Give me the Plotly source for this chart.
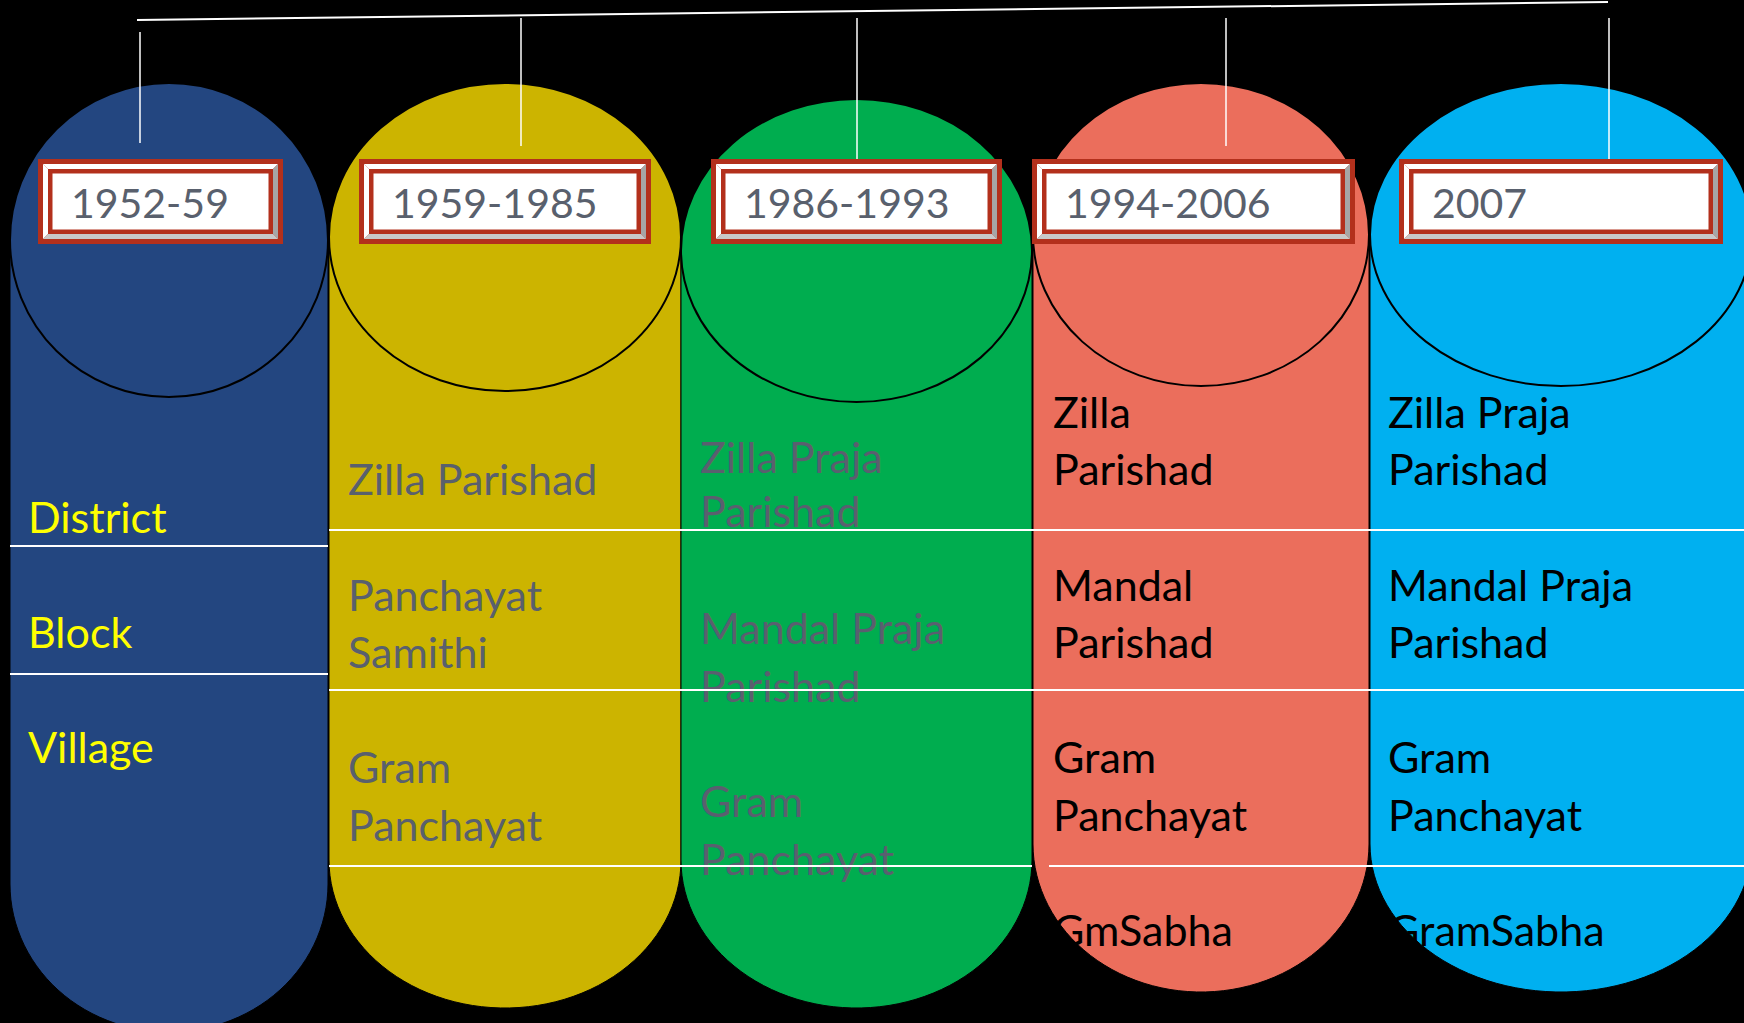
import numpy as np
import plotly.graph_objects as go

# ---------------- data ----------------
periods = ["1952-59", "1959-1985", "1986-1993", "1994-2006", "2007"]
levels_1952 = [["District"], ["Block"], ["Village"]]
levels_1959 = [["Zilla Parishad"], ["Panchayat", "Samithi"], ["Gram", "Panchayat"]]
levels_1986 = [["Zilla Praja", "Parishad"], ["Mandal Praja", "Parishad"], ["Gram", "Panchayat"]]
levels_1994 = [["Zilla", "Parishad"], ["Mandal", "Parishad"], ["Gram", "Panchayat"], ["GmSabha"]]
levels_2007 = [["Zilla Praja", "Parishad"], ["Mandal Praja", "Parishad"], ["Gram", "Panchayat"], ["GramSabha"]]
all_levels = [levels_1952, levels_1959, levels_1986, levels_1994, levels_2007]

# ---------------- layout / style ----------------
W, H = 1744, 1023
col_colors = ["#234680", "#CCB400", "#00AD4F", "#EB6E5C", "#00B0F0"]
text_colors = ["#FFFF00", "#59606D", "#5A5F6F", "#000000", "#000000"]
col_x = [(10, 328), (329, 681), (681, 1032), (1033, 1369), (1370, 1752)]
ell_y = [(83, 397), (83, 391), (99, 402), (83, 386), (83, 386)]
col_bottom = [1032, 1008, 1008, 992, 992]
bottom_ry = 148
box_x = [(38, 283), (359, 651), (711, 1002), (1032, 1355), (1399, 1723)]
box_y = (159, 244)
box_text_dx = 33
box_text_dy = 6.5
conn_x = [140, 521, 857, 1226, 1609]
conn_y = [(32, 143), (18, 146), (18, 159), (18, 146), (18, 159)]
top_line = ((137, 20), (1608, 2))
text_x = [28, 348, 700, 1053, 1388]
baselines = [
    [[533], [648], [763]],
    [[495], [611, 668], [783, 841]],
    [[473, 527], [644, 702], [817, 875]],
    [[428, 485], [601, 658], [773, 831], [946]],
    [[428, 485], [601, 658], [773, 831], [946]],
]
row_lines = [
    (10, 328, 546), (10, 328, 674),
    (329, 1744, 530), (329, 1744, 690),
    (329, 1032, 866), (1049, 1744, 866),
]
FONT = "Lato, 'Open Sans', sans-serif"
ROW_FS = 43
BOX_FS = 41
BOX_RED = "#B3301C"

shapes = []


def path_from(xs, ys):
    pts = " L ".join(f"{x:.2f},{y:.2f}" for x, y in zip(xs, ys))
    return "M " + pts + " Z"


for i, color in enumerate(col_colors):
    x0, x1 = col_x[i]
    y0, y1 = ell_y[i]
    cx = (x0 + x1) / 2
    rx = (x1 - x0) / 2
    cy = (y0 + y1) / 2
    ys = col_bottom[i] - bottom_ry
    t = np.linspace(np.pi, 0, 60)
    xs = [x0, x0] + list(cx - rx * np.cos(np.pi - t)) + [x1]
    ys_ = [cy, ys] + list(ys + bottom_ry * np.sin(t)) + [cy]
    shapes.append(dict(type="path", path=path_from(xs, ys_), fillcolor=color,
                       line=dict(color="#000000", width=1), layer="below"))
    shapes.append(dict(type="circle", x0=x0, x1=x1, y0=y0, y1=y1, fillcolor=color,
                       line=dict(color="#000000", width=2), layer="below"))

# top connector lines
shapes.append(dict(type="line", x0=top_line[0][0], y0=top_line[0][1], x1=top_line[1][0], y1=top_line[1][1],
                   line=dict(color="#FFFFFF", width=2), layer="below"))
for cxv, (a, b) in zip(conn_x, conn_y):
    shapes.append(dict(type="line", x0=cxv, x1=cxv, y0=a, y1=b,
                       line=dict(color="#FFFFFF", width=1.5), layer="below"))

# label boxes with bevel frame
for (X0, X1) in box_x:
    Y0, Y1 = box_y
    shapes.append(dict(type="rect", x0=X0, x1=X1, y0=Y0, y1=Y1, fillcolor=BOX_RED,
                       line=dict(width=0), layer="below"))
    a, b = 5, 10
    bevels = [
        ([X0 + a, X1 - a, X1 - b, X0 + b], [Y0 + a, Y0 + a, Y0 + b, Y0 + b], "#FFFFFF"),
        ([X0 + a, X0 + b, X0 + b, X0 + a], [Y0 + a, Y0 + b, Y1 - b, Y1 - a], "#FFFFFF"),
        ([X1 - a, X1 - a, X1 - b, X1 - b], [Y0 + a, Y1 - a, Y1 - b, Y0 + b], "#A6A6A6"),
        ([X0 + a, X1 - a, X1 - b, X0 + b], [Y1 - a, Y1 - a, Y1 - b, Y1 - b], "#C8C8C8"),
    ]
    for bx, by, bc in bevels:
        shapes.append(dict(type="path", path=path_from(bx, by), fillcolor=bc,
                           line=dict(width=0), layer="below"))
    shapes.append(dict(type="rect", x0=X0 + 14.5, x1=X1 - 14.5, y0=Y0 + 14.5, y1=Y1 - 14.5,
                       fillcolor="#FFFFFF", line=dict(width=0), layer="below"))

# white row divider lines (drawn above text)
for xa, xb, yy in row_lines:
    shapes.append(dict(type="line", x0=xa, x1=xb, y0=yy, y1=yy,
                       line=dict(color="#FFFFFF", width=2.2), layer="above"))

fig = go.Figure()

# period labels
bx_text = [X0 + box_text_dx for X0, _ in box_x]
by_text = [(box_y[0] + box_y[1]) / 2 + box_text_dy for _ in box_x]
fig.add_trace(go.Scatter(x=bx_text, y=by_text, text=periods, mode="text",
                         textposition="middle right",
                         textfont=dict(family=FONT, size=BOX_FS, color="#59606D"),
                         hoverinfo="skip", showlegend=False))

# level texts
for i, levels in enumerate(all_levels):
    xs, ys, ts = [], [], []
    for lev, bls in zip(levels, baselines[i]):
        for line, bl in zip(lev, bls):
            xs.append(text_x[i])
            ys.append(bl - 0.25 * ROW_FS)
            ts.append(line)
    fig.add_trace(go.Scatter(x=xs, y=ys, text=ts, mode="text", textposition="middle right",
                             textfont=dict(family=FONT, size=ROW_FS, color=text_colors[i]),
                             hoverinfo="skip", showlegend=False))

fig.update_layout(
    width=W, height=H, margin=dict(l=0, r=0, t=0, b=0),
    paper_bgcolor="#000000", plot_bgcolor="#000000",
    shapes=shapes, showlegend=False,
    xaxis=dict(range=[0, W], visible=False, fixedrange=True),
    yaxis=dict(range=[H, 0], visible=False, fixedrange=True),
)

fig.write_html("out.html", config={"displayModeBar": False, "staticPlot": True},
               post_script="document.body.style.margin='0';document.body.style.overflow='hidden';")
